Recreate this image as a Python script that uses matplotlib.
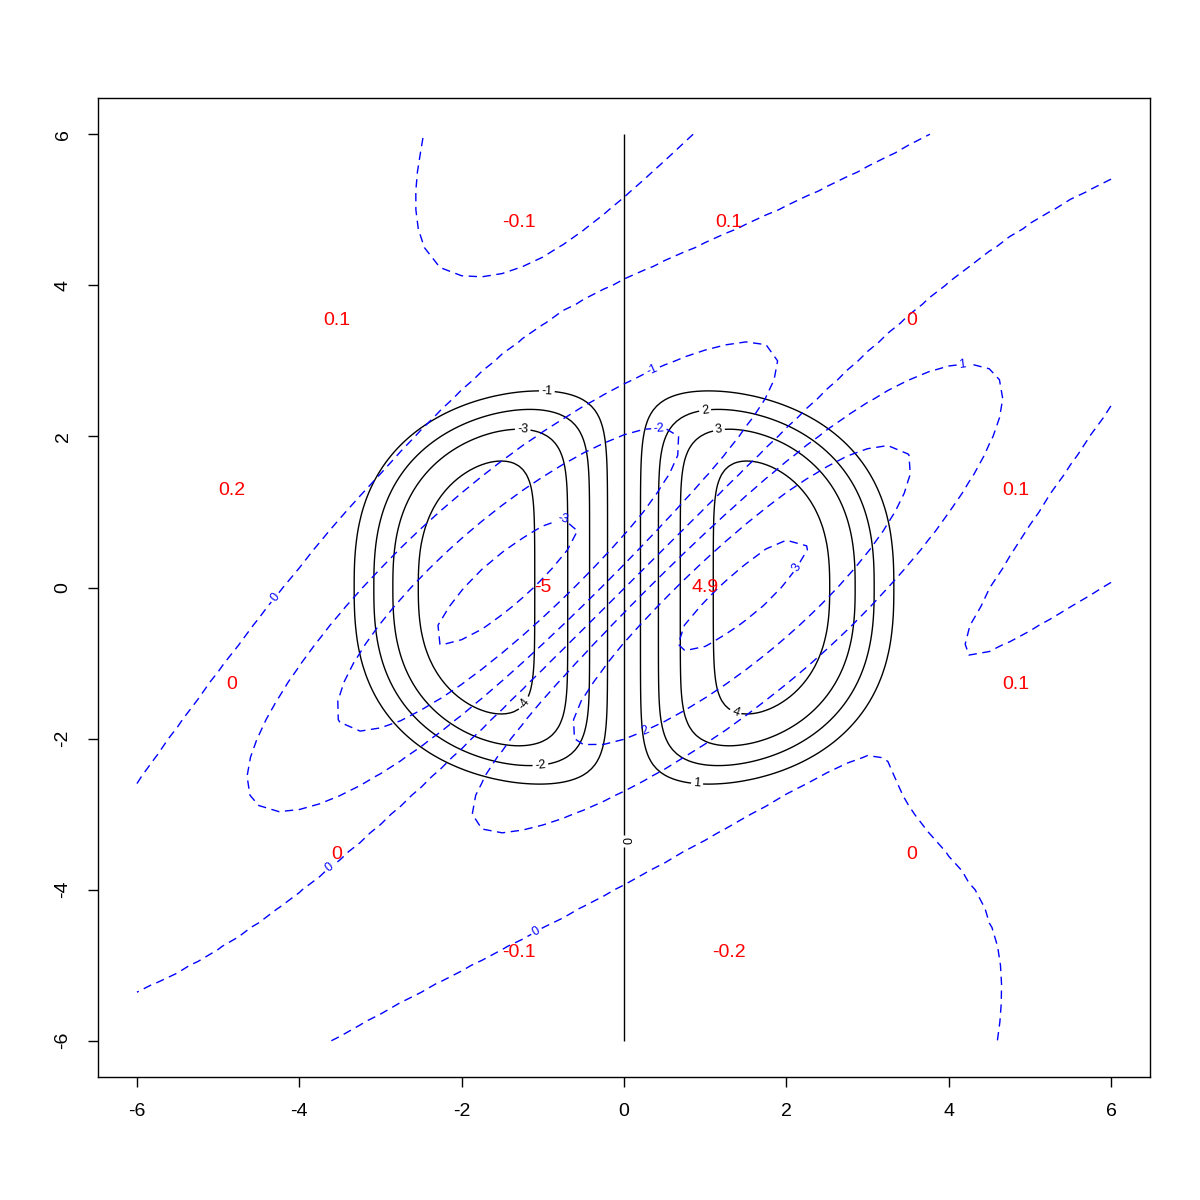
import numpy as np
import matplotlib.pyplot as plt

plt.rcParams['font.family'] = ['Liberation Sans', 'DejaVu Sans']
plt.rcParams['axes.unicode_minus'] = False
plt.rcParams['contour.negative_linestyle'] = 'solid'

# -------------------------
# DATA: scattered observations (red numbers)
# -------------------------
pt_x = [-1.29, 1.29, -3.54, 3.54, -4.83, 4.83, -1.0, 1.0, -4.83, 4.83, -3.54, 3.54, -1.29, 1.29]
pt_y = [4.83, 4.83, 3.54, 3.54, 1.29, 1.29, 0.0, 0.0, -1.29, -1.29, -3.54, -3.54, -4.83, -4.83]
pt_z = [-0.1, 0.1, 0.1, 0.0, 0.2, 0.1, -5.0, 4.9, 0.0, 0.1, 0.0, 0.0, -0.1, -0.2]
pt_lab = ["-0.1", "0.1", "0.1", "0", "0.2", "0.1", "-5", "4.9", "0", "0.1", "0", "0", "-0.1", "-0.2"]

black_levels = [-4, -3, -2, -1, 0, 1, 2, 3, 4]
blue_levels = [-3, -2, -1, 0, 1, 2, 3]

# true surface parameters (D shaped dipole)
amp = 5.0
ax_x, ax_y = 3.12, 2.55
shape_m, shape_p = 2.6, 7.5

# smoother settings for the fitted surface (anisotropic gaussian kernel)
fit_angle = 40.0
len_u, len_v = 3.0, 1.0
noise = 0.45

# where the contour labels sit: level -> points near which to put them
black_marks = {-1: [(-0.95, 2.6)], -3: [(-1.25, 2.06)], -4: [(-1.1, -1.63)], -2: [(-1.03, -2.35)],
               2: [(1.0, 2.34)], 3: [(1.17, 2.08)], 4: [(1.38, -1.63)], 1: [(0.9, -2.6)],
               0: [(-0.05, -3.35)]}
blue_marks = {0: [(-5.5, 0.93), (-3.6, -3.75), (-1.0, -4.7)], -1: [(0.2, 3.25)], -2: [(0.4, 2.65)],
              -3: [(-0.4, 1.72)], 3: [(2.0, 0.35)], 1: [(4.2, 2.7)], 2: [(0.15, -1.63)]}

# -------------------------
# TRUE SURFACE (black)
# -------------------------
gx = np.linspace(-6, 6, 241)
gy = np.linspace(-6, 6, 241)
GX, GY = np.meshgrid(gx, gy)
rho = ((np.abs(GX) / ax_x) ** shape_m + (np.abs(GY) / ax_y) ** shape_m) ** (1 / shape_m)
Z_true = amp * np.tanh(GX) * np.exp(-np.minimum(rho ** shape_p, 600))

# -------------------------
# FITTED SURFACE (blue)
# -------------------------
def frame(x, y):
    a = np.deg2rad(fit_angle)
    u = (x * np.cos(a) + y * np.sin(a)) / len_u
    v = (-x * np.sin(a) + y * np.cos(a)) / len_v
    return u, v

def kern(du, dv):
    return np.exp(-0.5 * (du ** 2 + dv ** 2))

pu, pv = frame(np.array(pt_x), np.array(pt_y))
K = kern(pu[:, None] - pu[None, :], pv[:, None] - pv[None, :])
alpha = np.linalg.solve(K + noise * np.eye(len(pt_z)), np.array(pt_z))

bx = np.linspace(-6, 6, 49)
by = np.linspace(-6, 6, 49)
BX, BY = np.meshgrid(bx, by)
bu, bv = frame(BX, BY)
Z_fit = kern(bu[..., None] - pu, bv[..., None] - pv) @ alpha


def draw_levels(ax, X, Y, Z, levels, marks, color, dashed=False):
    # one contour set per level so every label lands on its own line
    for lev in levels:
        if not (Z.min() < lev < Z.max()):
            continue
        cs = ax.contour(X, Y, Z, levels=[lev], colors=color, linewidths=1.0)
        if dashed:
            cs.set_linestyle((0, (6, 4)))
        if lev in marks:
            cs.clabel(fmt="%d", fontsize=9, inline=True, inline_spacing=3,
                      manual=marks[lev])


# -------------------------
# PLOT
# -------------------------
fig = plt.figure(figsize=(12, 12), dpi=100)
ax = fig.add_axes([98 / 1200, 123 / 1200, 1052 / 1200, 979 / 1200])

draw_levels(ax, GX, GY, Z_true, black_levels, black_marks, "black")
draw_levels(ax, BX, BY, Z_fit, blue_levels, blue_marks, "blue", dashed=True)

for x, y, s in zip(pt_x, pt_y, pt_lab):
    ax.text(x, y, s, color="red", fontsize=14, ha="center", va="center")

ax.set_xlim(-6.48, 6.48)
ax.set_ylim(-6.48, 6.48)
ax.set_xticks([-6, -4, -2, 0, 2, 4, 6])
ax.set_yticks([-6, -4, -2, 0, 2, 4, 6])
ax.tick_params(direction="out", length=7, width=1, labelsize=14, pad=12)
for lab in ax.get_yticklabels():
    lab.set_rotation(90)
    lab.set_va("center")
for sp in ax.spines.values():
    sp.set_linewidth(1.0)

fig.savefig("out.png", dpi=100)
